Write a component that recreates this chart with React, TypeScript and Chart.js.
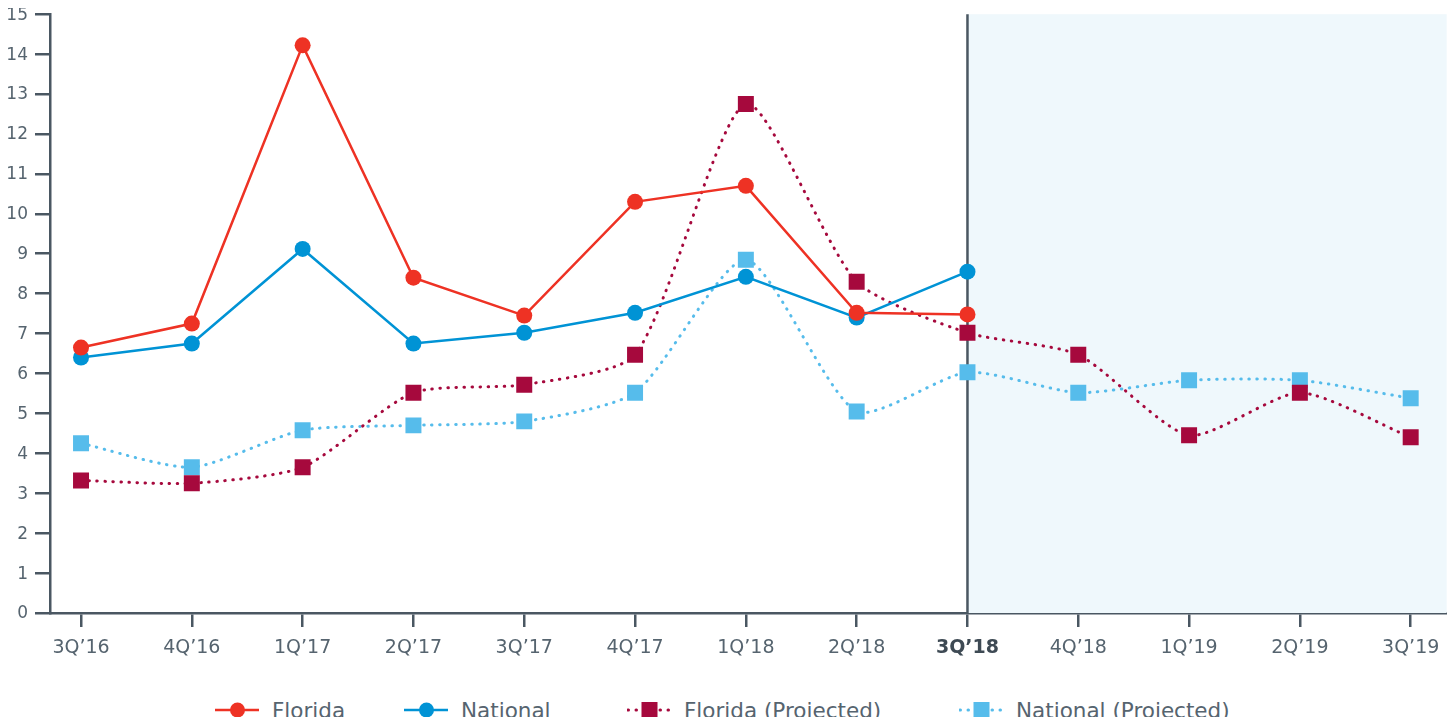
import React, { useEffect, useRef } from "react";
import { Chart, registerables } from "chart.js";

Chart.register(...registerables);

const categories = ["3Q’16", "4Q’16", "1Q’17", "2Q’17", "3Q’17", "4Q’17", "1Q’18", "2Q’18", "3Q’18", "4Q’18", "1Q’19", "2Q’19", "3Q’19"];
const florida = [6.65, 7.25, 14.22, 8.4, 7.45, 10.3, 10.7, 7.52, 7.48];
const national = [6.4, 6.75, 9.12, 6.75, 7.02, 7.52, 8.42, 7.4, 8.55];
const floridaProjected = [3.32, 3.25, 3.65, 5.52, 5.72, 6.47, 12.75, 8.3, 7.02, 6.47, 4.45, 5.52, 4.4];
const nationalProjected = [4.25, 3.65, 4.58, 4.7, 4.8, 5.52, 8.85, 5.05, 6.03, 5.52, 5.83, 5.83, 5.38];
const yTicks = [0, 1, 2, 3, 4, 5, 6, 7, 8, 9, 10, 11, 12, 13, 14, 15];
const currentIndex = 8;

const AXIS = "#4A5762";
const TEXT = "#56646F";
const RED = "#EE3224";
const BLUE = "#0093D5";
const CRIMSON = "#A6093D";
const LIGHTBLUE = "#56BCEB";
const SHADE = "#EFF8FC";
const FONT = "'DejaVu Sans', 'Open Sans', sans-serif";

const toPts = (arr: number[]) => arr.map((v, i) => ({ x: i, y: v }));

const shadePlugin = {
  id: "shadeRegion",
  beforeDatasetsDraw(chart: any) {
    const { ctx, chartArea, scales } = chart;
    const x = scales.x.getPixelForValue(currentIndex);
    ctx.save();
    ctx.fillStyle = SHADE;
    ctx.fillRect(x, chartArea.top, chartArea.right - x, chartArea.bottom - chartArea.top);
    ctx.strokeStyle = AXIS;
    ctx.lineWidth = 2.5;
    ctx.beginPath();
    ctx.moveTo(x, chartArea.top);
    ctx.lineTo(x, chartArea.bottom);
    ctx.stroke();
    ctx.restore();
  },
};

function LegendItem({ left, color, dotted, square, label }: any) {
  return (
    <div style={{ position: "absolute", left, top: 0, height: 28, display: "flex", alignItems: "center" }}>
      <svg width={45} height={18} style={{ display: "block" }}>
        {dotted ? (
          <line x1={1} y1={9} x2={44} y2={9} stroke={color} strokeWidth={3} strokeDasharray="0.5 7.5" strokeLinecap="round" />
        ) : (
          <line x1={0} y1={9} x2={44} y2={9} stroke={color} strokeWidth={2.5} />
        )}
        {square ? <rect x={14.5} y={1} width={16} height={16} fill={color} /> : <circle cx={22.5} cy={9} r={7.5} fill={color} />}
      </svg>
      <span style={{ marginLeft: 12, fontFamily: FONT, fontSize: 21.5, color: TEXT, whiteSpace: "nowrap" }}>{label}</span>
    </div>
  );
}

export default function App() {
  const ref = useRef<HTMLCanvasElement | null>(null);
  useEffect(() => {
    document.documentElement.style.overflow = "hidden";
    document.body.style.overflow = "hidden";
    if (!ref.current) return;
    const chart = new Chart(ref.current, {
      type: "line",
      data: {
        datasets: [
          {
            label: "Florida",
            data: toPts(florida),
            borderColor: RED,
            backgroundColor: RED,
            borderWidth: 2.5,
            pointRadius: 8,
            pointBorderWidth: 0,
            pointStyle: "circle",
            tension: 0,
          },
          {
            label: "National",
            data: toPts(national),
            borderColor: BLUE,
            backgroundColor: BLUE,
            borderWidth: 2.5,
            pointRadius: 8,
            pointBorderWidth: 0,
            pointStyle: "circle",
            tension: 0,
          },
          {
            label: "Florida (Projected)",
            data: toPts(floridaProjected),
            borderColor: CRIMSON,
            backgroundColor: CRIMSON,
            borderWidth: 3,
            borderDash: [0.5, 7.5],
            borderCapStyle: "round",
            pointRadius: 11.3,
            pointBorderWidth: 0,
            pointStyle: "rect",
            tension: 0.22,
          },
          {
            label: "National (Projected)",
            data: toPts(nationalProjected),
            borderColor: LIGHTBLUE,
            backgroundColor: LIGHTBLUE,
            borderWidth: 3,
            borderDash: [0.5, 7.5],
            borderCapStyle: "round",
            pointRadius: 11.3,
            pointBorderWidth: 0,
            pointStyle: "rect",
            tension: 0.22,
          },
        ] as any,
      },
      options: {
        animation: false,
        responsive: true,
        maintainAspectRatio: false,
        layout: { padding: { top: 0, right: 0, left: 0, bottom: 0 } },
        plugins: { legend: { display: false }, tooltip: { enabled: false } },
        scales: {
          x: {
            type: "linear",
            min: -0.28,
            max: 12.325,
            afterBuildTicks: (scale: any) => {
              scale.ticks = categories.map((_, i) => ({ value: i }));
            },
            afterFit: (scale: any) => {
              scale.height = 75;
            },
            grid: { drawOnChartArea: false, drawTicks: true, tickLength: 14, color: AXIS, lineWidth: 2.5 },
            border: { display: true, color: AXIS, width: 2.5 },
            ticks: {
              autoSkip: false,
              maxRotation: 0,
              padding: 10,
              color: (c: any) => (c.tick && c.tick.value === currentIndex ? "#3E4A54" : TEXT),
              font: (c: any) => ({ family: FONT, size: 19, weight: c.tick && c.tick.value === currentIndex ? "bold" : "normal" }),
              callback: (v: any) => categories[Math.round(Number(v))],
            },
          },
          y: {
            type: "linear",
            min: 0,
            max: 15,
            afterBuildTicks: (scale: any) => {
              scale.ticks = yTicks.map((v) => ({ value: v }));
            },
            afterFit: (scale: any) => {
              scale.width = 48;
            },
            grid: { drawOnChartArea: false, drawTicks: true, tickLength: 15, color: AXIS, lineWidth: 2.5 },
            border: { display: true, color: AXIS, width: 2.5 },
            ticks: { padding: 7, labelOffset: 1, color: TEXT, font: { family: FONT, size: 17 } },
          },
        },
      },
      plugins: [shadePlugin],
    } as any);
    return () => chart.destroy();
  }, []);

  return (
    <div style={{ position: "relative", width: 1439, height: 709 }}>
      <div style={{ position: "absolute", left: -6, top: -11, width: 1456, height: 691 }}>
        <canvas ref={ref} />
      </div>
      <div style={{ position: "absolute", left: 0, top: 688, width: 1439, height: 28 }}>
        <LegendItem left={207} color={RED} label="Florida" />
        <LegendItem left={396} color={BLUE} label="National" />
        <LegendItem left={619} color={CRIMSON} dotted square label="Florida (Projected)" />
        <LegendItem left={951} color={LIGHTBLUE} dotted square label="National (Projected)" />
      </div>
    </div>
  );
}
